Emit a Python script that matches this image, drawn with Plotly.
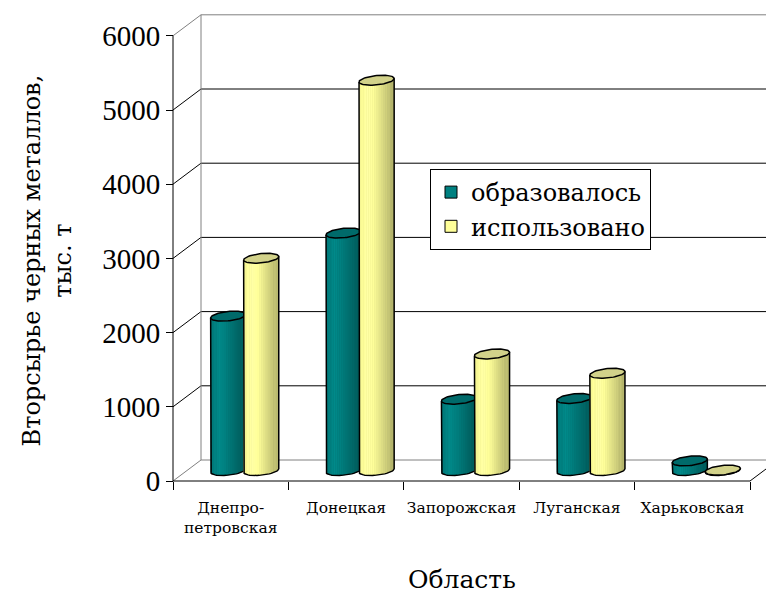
import numpy as np
import plotly.graph_objects as go

# ---- data -------------------------------------------------------------
regions = ["Днепро-<br>петровская", "Донецкая", "Запорожская", "Луганская", "Харьковская"]
formed = [2080, 3200, 960, 970, 130]      # образовалось, тыс. т
used = [2860, 5260, 1570, 1310, 5]        # использовано, тыс. т
series_names = ["образовалось", "использовано"]
y_ticks = [0, 1000, 2000, 3000, 4000, 5000, 6000]

# ---- page / plot-area geometry (pixels) -------------------------------
W, H = 766, 595
L, T, B = 157, 10, 512          # plot area left / top / bottom
AX_X, AX_Y = 173, 481           # front value axis x, front zero line y
PX_CAT = 115.4                  # pixels per category
PX_VAL = 0.0742                 # pixels per value unit
DEPTH_X, DEPTH_Y = 28, 21       # oblique depth offset of the back wall

xr = [(L - AX_X) / PX_CAT, (W - AX_X) / PX_CAT]
yr = [-(B - AX_Y) / PX_VAL, (AX_Y - T) / PX_VAL]

def ux(px):  # horizontal pixels -> x units
    return px / PX_CAT

def uy(px):  # vertical pixels -> value units
    return px / PX_VAL

dxu, dyu = ux(DEPTH_X), uy(DEPTH_Y)
ncat = len(regions)

FONT = "DejaVu Serif"
NUM_FONT = "Liberation Serif, DejaVu Serif"
GRAY = "#808080"

fig = go.Figure()

def seg(x, y, color, width=1):
    fig.add_trace(go.Scatter(x=x, y=y, mode="lines", line=dict(color=color, width=width),
                             hoverinfo="skip", showlegend=False))

# ---- walls and gridlines ----------------------------------------------
for v in y_ticks:
    c = GRAY if v in (0, 6000) else "black"
    seg([0, dxu], [v, v + dyu], c)                      # side wall diagonal
    seg([dxu, ncat + dxu], [v + dyu, v + dyu], c)       # back wall gridline
seg([dxu, dxu], [dyu, 6000 + dyu], GRAY)                # back wall left edge
seg([ncat, ncat + dxu], [0, dyu], "black")              # floor right edge
seg([0, ncat], [0, 0], "black")                         # front category axis
seg([0, 0], [0, 6000], "black")                         # front value axis

# ---- cylinders ---------------------------------------------------------
R_PX, TILT_PX, SEMI_PX = 16.5, 6.0, 5.0
phi = np.arctan2(TILT_PX, R_PX)

def ellipse(theta):
    """Pixel offsets of points on a horizontal circle seen obliquely."""
    return R_PX * np.cos(theta) + TILT_PX * np.sin(theta), SEMI_PX * np.sin(theta)

def shade(rgb, t):
    m = np.interp(t, [0, 0.25, 0.5, 1.0], [0.95, 1.08, 0.95, 0.66])
    return "rgb(%d,%d,%d)" % tuple(min(255, int(round(c * m))) for c in rgb)

N = 26
front = np.linspace(np.pi + phi, 2 * np.pi + phi, N + 1)
full = np.linspace(0, 2 * np.pi, 73)

styles = [
    dict(values=formed, side=-1, base=(0, 128, 128), top="#006a6a", name=series_names[0]),
    dict(values=used, side=+1, base=(255, 255, 153), top="#d2d28a", name=series_names[1]),
]

base_y = uy(DEPTH_Y / 2)
for st in styles:
    centers = [i + 0.5 + ux(DEPTH_X / 2 + st["side"] * R_PX) for i in range(ncat)]
    # body base fill
    bx, by = [], []
    for cx, v in zip(centers, st["values"]):
        ex, ey = ellipse(front)
        xs = list(cx + ux(ex)) + list(cx + ux(ex[::-1]))
        ys = list(base_y + uy(ey)) + list(base_y + v + uy(ey[::-1]))
        bx += xs + [None]
        by += ys + [None]
    fig.add_trace(go.Scatter(x=bx, y=by, fill="toself", mode="lines", line=dict(width=0),
                             fillcolor=shade(st["base"], 0.6), hoverinfo="skip", showlegend=False))
    # shaded stripes
    ex_all, _ = ellipse(front)
    span = ex_all.max() - ex_all.min()
    for k in range(N):
        sx, sy = [], []
        ex, ey = ellipse(front[k:k + 2])
        for cx, v in zip(centers, st["values"]):
            sx += [cx + ux(ex[0]), cx + ux(ex[1]), cx + ux(ex[1]), cx + ux(ex[0]), None]
            sy += [base_y + uy(ey[0]), base_y + uy(ey[1]),
                   base_y + v + uy(ey[1]), base_y + v + uy(ey[0]), None]
        t = (ex.mean() - ex_all.min()) / span
        fig.add_trace(go.Scatter(x=sx, y=sy, fill="toself", mode="lines", line=dict(width=0),
                                 fillcolor=shade(st["base"], t), hoverinfo="skip",
                                 showlegend=False))
    # silhouette outline
    ox, oy = [], []
    for cx, v in zip(centers, st["values"]):
        ex, ey = ellipse(front)
        ox += [cx + ux(ex[0])] + list(cx + ux(ex)) + [cx + ux(ex[-1]), None]
        oy += [base_y + v + uy(ey[0])] + list(base_y + uy(ey)) + [base_y + v + uy(ey[-1]), None]
    seg(ox, oy, "black", 1.5)
    # top caps
    tx, ty = [], []
    for cx, v in zip(centers, st["values"]):
        ex, ey = ellipse(full)
        tx += list(cx + ux(ex)) + [None]
        ty += list(base_y + v + uy(ey)) + [None]
    fig.add_trace(go.Scatter(x=tx, y=ty, fill="toself", mode="lines",
                             line=dict(color="black", width=1.5), fillcolor=st["top"],
                             hoverinfo="skip", showlegend=False))
    # legend entry
    fig.add_trace(go.Bar(x=[None], y=[None], name=st["name"],
                         marker=dict(color="rgb(%d,%d,%d)" % st["base"],
                                     line=dict(color="black", width=1))))

# ---- layout ------------------------------------------------------------
pw, ph = W - L, B - T
fig.update_layout(
    width=W, height=H,
    margin=dict(l=L, r=0, t=T, b=H - B, pad=0),
    paper_bgcolor="white", plot_bgcolor="white",
    font=dict(family=FONT, color="black"),
    xaxis=dict(range=xr, showgrid=False, zeroline=False, showline=False,
               anchor="free", position=(B - AX_Y) / ph,
               tickmode="array", tickvals=[i + 0.5 for i in range(ncat)], ticktext=regions,
               ticks="outside", ticklen=12, tickcolor="rgba(0,0,0,0)",
               tickfont=dict(size=15.5, family=FONT),
               minor=dict(tickmode="array", tickvals=list(range(ncat + 1)),
                          ticks="outside", ticklen=8, tickcolor="black", tickwidth=1)),
    yaxis=dict(range=yr, showgrid=False, zeroline=False, showline=False,
               anchor="free", position=(AX_X - L) / pw,
               tickmode="array", tickvals=y_ticks, ticks="outside", ticklen=7,
               tickcolor="black", tickfont=dict(size=29, family=NUM_FONT)),
    legend=dict(x=(430 - L) / pw, y=(B - 169) / ph, xanchor="left", yanchor="top",
                bordercolor="black", borderwidth=1, bgcolor="white",
                font=dict(size=24, family=FONT)),
    annotations=[
        dict(text="Вторсырье черных металлов,<br>тыс. т", textangle=-90,
             xref="paper", yref="paper", x=(46.5 - L) / pw, y=(B - 261) / ph,
             xanchor="center", yanchor="middle", showarrow=False,
             font=dict(size=24, family=FONT)),
        dict(text="Область", xref="paper", yref="paper",
             x=(461.5 - L) / pw, y=(B - 580) / ph, xanchor="center", yanchor="middle",
             showarrow=False, font=dict(size=25, family=FONT)),
    ],
)

fig.write_html("out.html")
